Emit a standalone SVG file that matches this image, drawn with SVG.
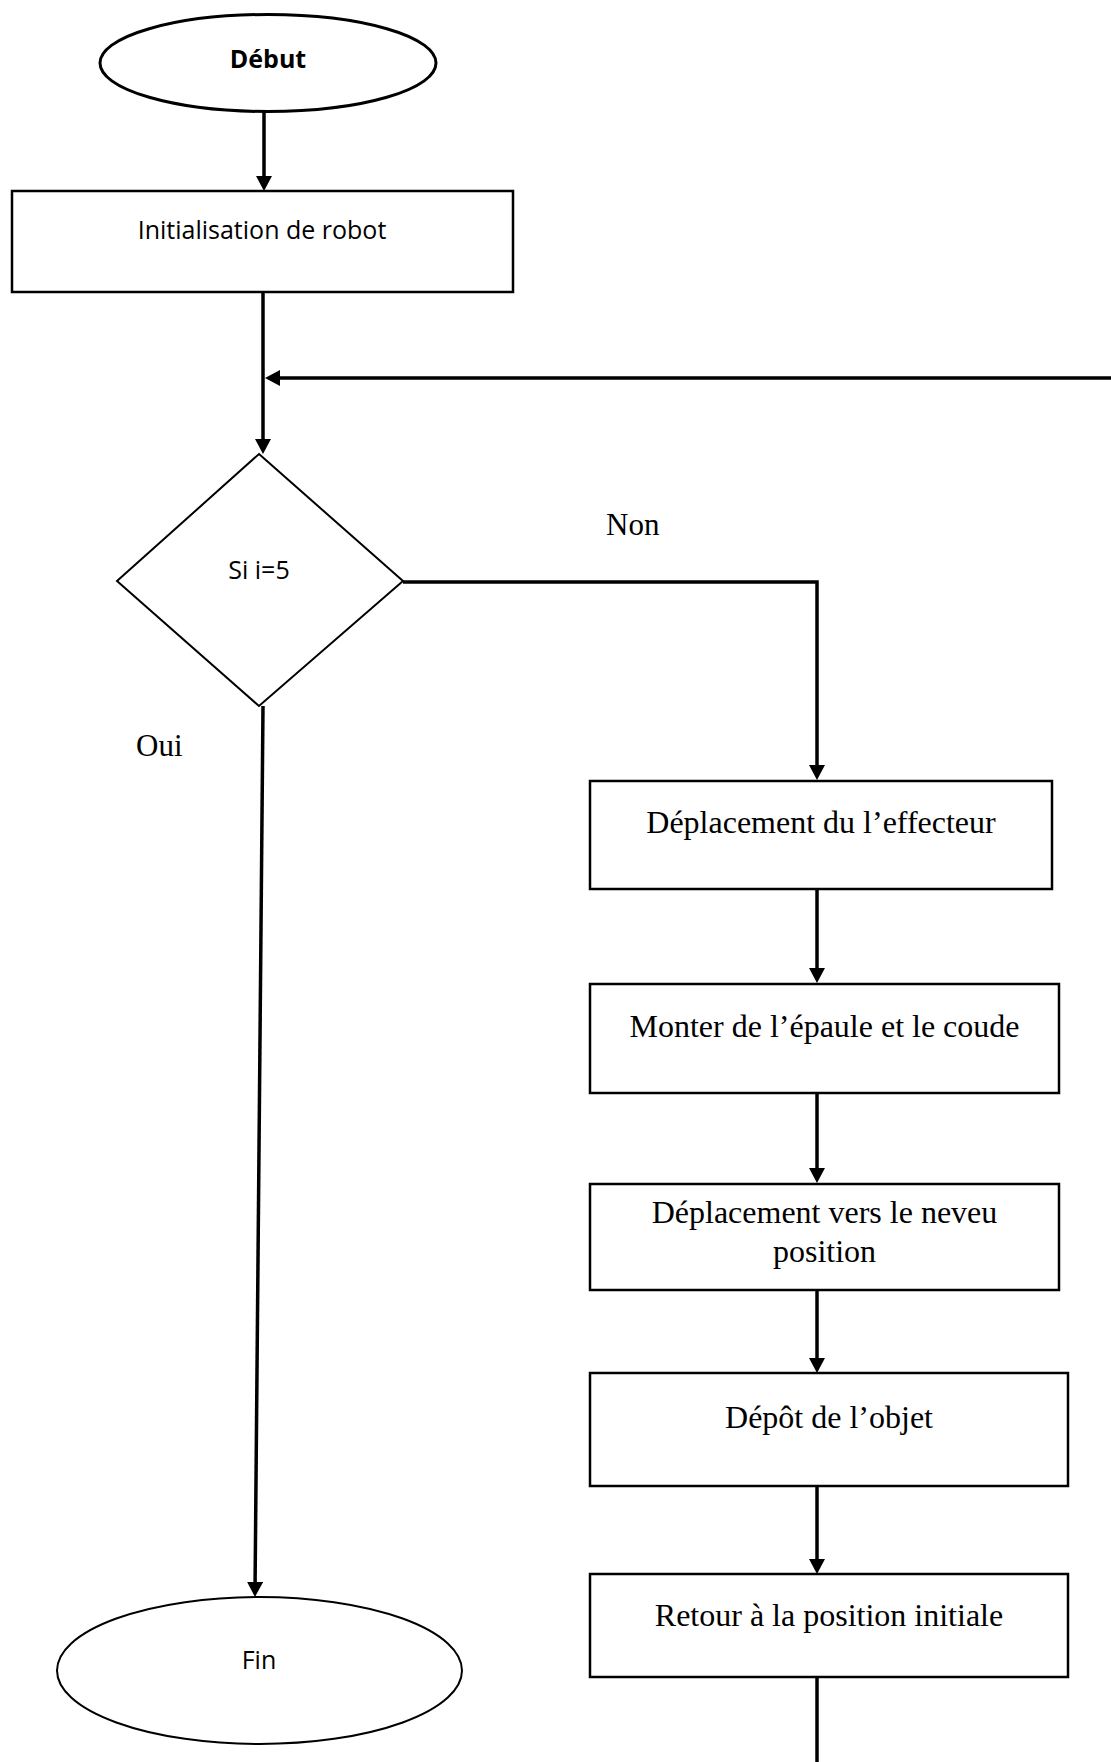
<svg xmlns="http://www.w3.org/2000/svg" width="1111" height="1762" viewBox="0 0 1111 1762">
  <defs>
    <marker id="arrow" markerUnits="userSpaceOnUse" viewBox="0 0 15 16" refX="0" refY="8" markerWidth="15" markerHeight="16" orient="auto">
      <path d="M0,0 L15,8 L0,16 z" fill="#000"/>
    </marker>
    <style>
      .shape { fill: #fff; stroke: #000; }
      .box { stroke-width: 2.5; }
      .conn { fill: none; stroke: #000; stroke-width: 3.5; }
      .sans { font-family: "Open Sans", "Noto Sans", sans-serif; font-size: 25px; fill: #000; text-anchor: middle; }
      .serif { font-family: "Liberation Serif", "Times New Roman", serif; font-size: 32px; fill: #000; text-anchor: middle; }
      .lbl { font-family: "Liberation Serif", "Times New Roman", serif; font-size: 31px; fill: #000; }
    </style>
  </defs>
  <rect width="1111" height="1762" fill="#fff"/>

  <g id="connectors">
    <line class="conn" x1="264" y1="112" x2="264" y2="176" marker-end="url(#arrow)"/>
    <line class="conn" x1="263" y1="292" x2="263" y2="439" marker-end="url(#arrow)"/>
    <line class="conn" x1="1111" y1="378" x2="280" y2="378" marker-end="url(#arrow)"/>
    <polyline class="conn" points="403,582 817,582 817,765" marker-end="url(#arrow)"/>
    <line class="conn" x1="263" y1="706" x2="255.1" y2="1582" marker-end="url(#arrow)"/>
    <line class="conn" x1="817" y1="889" x2="817" y2="968" marker-end="url(#arrow)"/>
    <line class="conn" x1="817" y1="1093" x2="817" y2="1168" marker-end="url(#arrow)"/>
    <line class="conn" x1="817" y1="1290" x2="817" y2="1358" marker-end="url(#arrow)"/>
    <line class="conn" x1="817" y1="1486" x2="817" y2="1559" marker-end="url(#arrow)"/>
    <line class="conn" x1="817" y1="1677" x2="817" y2="1762"/>
    <text class="lbl" x="606" y="535">Non</text>
    <text class="lbl" x="136" y="756">Oui</text>
  </g>

  <g id="debut">
    <ellipse class="shape" cx="268" cy="63" rx="168" ry="48.5" stroke-width="3"/>
    <text class="sans" x="268" y="68" font-weight="bold" font-size="24">Début</text>
  </g>

  <g id="init">
    <rect class="shape box" x="12" y="191" width="501" height="101"/>
    <text class="sans" x="262" y="239">Initialisation de robot</text>
  </g>

  <g id="decision">
    <polygon class="shape" points="259,454 403,581 259,706 117,581" stroke-width="2"/>
    <text class="sans" x="259" y="579">Si i=5</text>
  </g>

  <g id="deplacement-effecteur">
    <rect class="shape box" x="590" y="781" width="462" height="108"/>
    <text class="serif" x="821" y="833">Déplacement du l’effecteur</text>
  </g>

  <g id="monter-epaule">
    <rect class="shape box" x="590" y="984" width="469" height="109"/>
    <text class="serif" x="824.5" y="1037">Monter de l’épaule et le coude</text>
  </g>

  <g id="deplacement-position">
    <rect class="shape box" x="590" y="1184" width="469" height="106"/>
    <text class="serif" x="824.5" y="1223">Déplacement vers le neveu</text>
    <text class="serif" x="824.5" y="1262">position</text>
  </g>

  <g id="depot">
    <rect class="shape box" x="590" y="1373" width="478" height="113"/>
    <text class="serif" x="829" y="1428">Dépôt de l’objet</text>
  </g>

  <g id="retour">
    <rect class="shape box" x="590" y="1574" width="478" height="103"/>
    <text class="serif" x="829" y="1626">Retour à la position initiale</text>
  </g>

  <g id="fin">
    <ellipse class="shape" cx="259.5" cy="1670.5" rx="202.5" ry="73.5" stroke-width="2"/>
    <text class="sans" x="259" y="1669">Fin</text>
  </g>
</svg>
